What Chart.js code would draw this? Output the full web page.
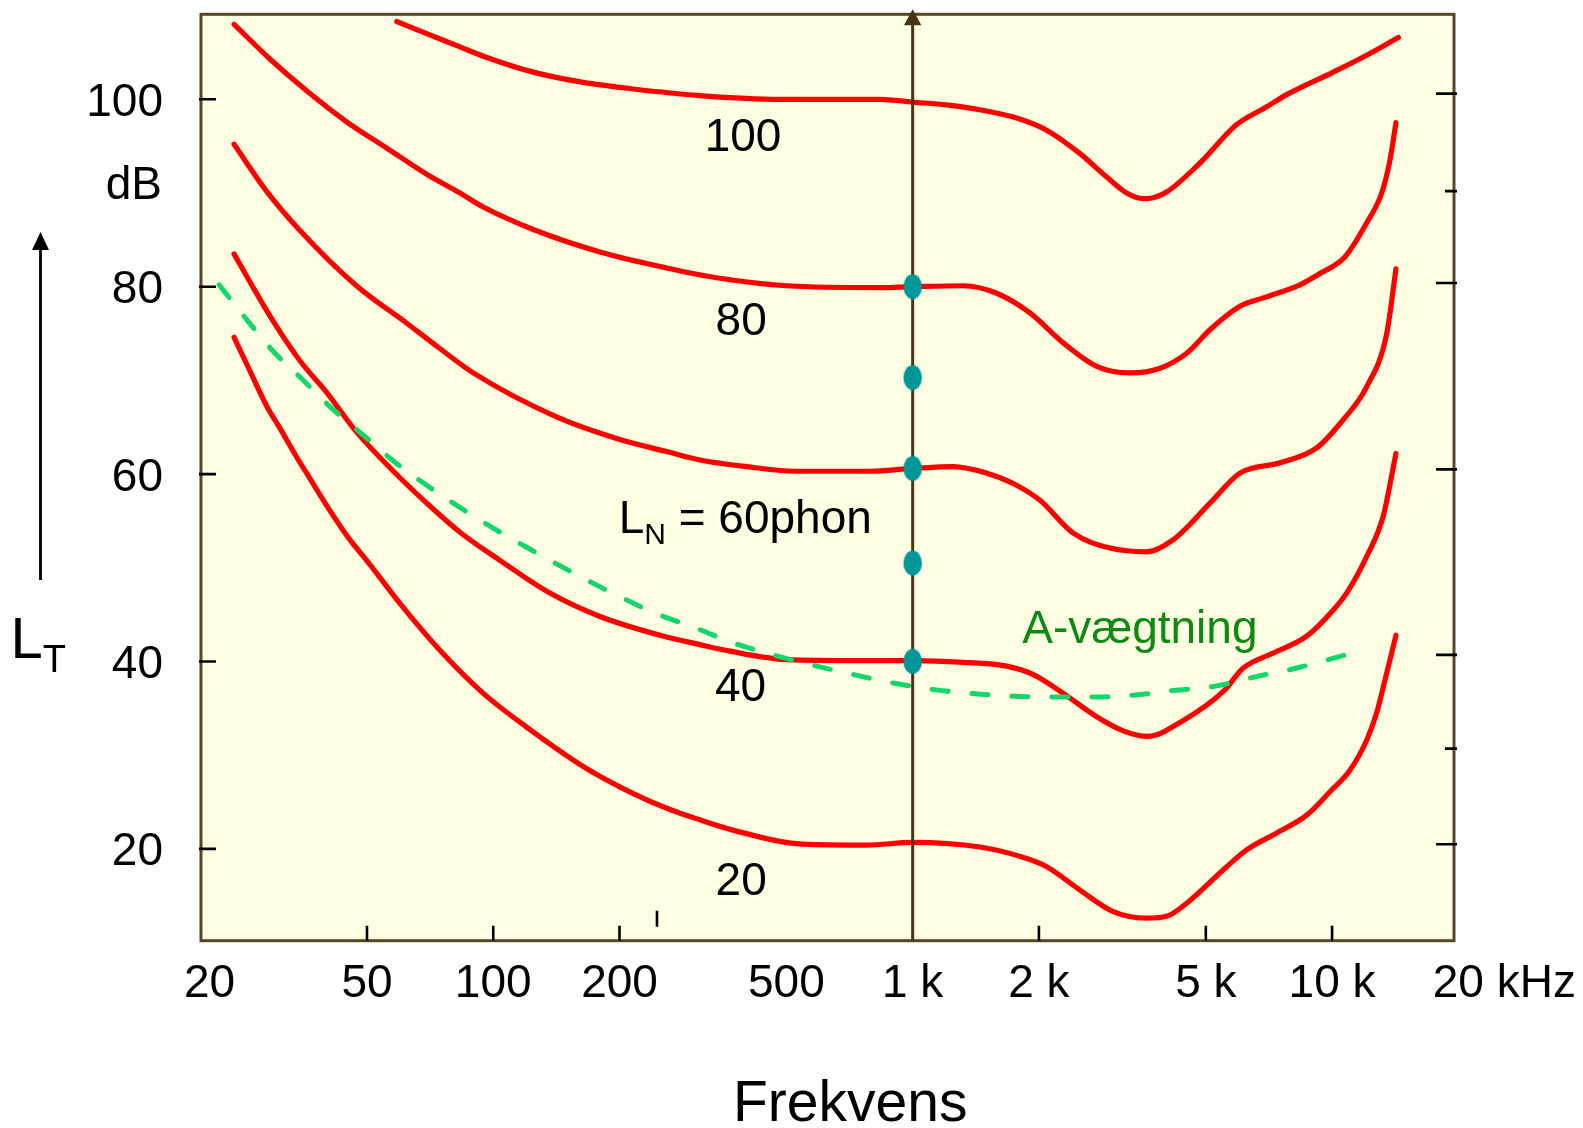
<!DOCTYPE html>
<html><head><meta charset="utf-8">
<script src="https://cdn.jsdelivr.net/npm/chart.js@4.4.1/dist/chart.umd.min.js"></script>
<style>html,body{margin:0;padding:0;background:#fff;}canvas{display:block;}</style>
</head><body>
<canvas id="c" width="1583" height="1128"></canvas>
<script>
// ---- data (frequency Hz, level dB) ----
const phon100 = [[58.9,108.3],[69.4,107.0],[83.3,105.6],[94.7,104.6],[124.6,102.9],[163.9,101.8],[215.7,101.1],[311,100.4],[483,100.0],[836,100.0],[1000,99.7],[1205,99.4],[1395,99.0],[1770,98.0],[2087,96.7],[2506,94.2],[2901,91.7],[3238,90.0],[3546,89.4],[3747,89.5],[4033,90.1],[4842,93.2],[5923,97.3],[6986,99.2],[7796,100.5],[10070,102.9],[12090,104.7],[14390,106.6]];
const phon80 = [[24.1,108.0],[29.35,104.3],[35.9,100.9],[44.7,97.6],[55.7,94.8],[69.4,92.0],[83.3,90.0],[94.7,88.5],[124.6,86.1],[179.7,83.7],[259,82.0],[347,80.9],[501,80.1],[836,79.9],[1000,80.0],[1320,80.1],[1586,79.3],[1904,77.2],[2286,74.0],[2746,71.5],[3297,70.8],[3888,71.3],[4501,72.9],[5116,75.4],[6031,77.9],[6855,78.8],[8383,80.2],[9359,81.4],[10740,83.2],[12090,86.8],[13130,90.0],[13740,93.5],[14200,97.5]];
const phon60 = [[24.1,95.2],[28.8,90.2],[34.6,86.0],[47.2,80.1],[62.2,76.1],[74.6,73.4],[89.6,70.8],[141.6,66.1],[196.8,63.8],[259,62.4],[311,61.5],[402,60.8],[529,60.3],[791,60.3],[1000,60.6],[1250,60.8],[1502,60.1],[1737,59.0],[2012,57.2],[2415,53.7],[2954,52.1],[3614,51.7],[4182,53.0],[5116,56.9],[6031,60.1],[7514,61.2],[9190,62.8],[10630,65.8],[12090,69.3],[13500,75.0],[14200,81.9]];
const phon40 = [[24.1,83.5],[26.3,80.5],[29.9,76.3],[34.6,72.1],[40.1,68.7],[47.2,64.5],[57.8,60.3],[69.4,56.9],[83.3,53.8],[103.7,50.8],[136.5,47.3],[179.7,44.8],[249.7,42.8],[311,41.8],[366.7,41.1],[501,40.2],[762,40.1],[1000,40.1],[1320,39.9],[1676,39.5],[1939,38.6],[2286,36.6],[2746,34.1],[3178,32.6],[3630,32.0],[4379,33.6],[5504,36.8],[6141,39.3],[7241,40.9],[8700,42.7],[10070,45.5],[10830,47.3],[12090,51.2],[13240,55.5],[14200,62.2]];
const phon20 = [[24.1,74.6],[26.3,71.0],[28.8,67.3],[31.0,64.9],[34.0,61.8],[36.6,59.5],[40.8,56.1],[45.5,53.0],[49.9,50.8],[59.9,46.2],[74.6,41.2],[94.7,36.6],[120.1,33.0],[163.9,28.8],[215.7,25.9],[263.8,24.2],[311,23.1],[373,22.0],[548,20.5],[777,20.4],[1000,20.7],[1447,20.2],[1803,19.2],[2087,18.1],[2506,15.6],[3008,13.3],[3614,12.6],[4033,12.8],[4501,14.2],[5608,18.1],[6257,19.9],[7378,21.7],[8700,23.6],[9886,26.1],[11030,28.4],[12090,31.6],[12770,34.5],[13370,38.0],[14200,42.8]];
const aWeighting = [[22.2,80.2],[25.6,76.7],[29.6,73.3],[34.9,70.2],[40.8,67.2],[48.6,64.3],[57.8,61.4],[69.4,58.8],[91.3,55.3],[111.6,53.0],[136.5,50.8],[163.9,48.9],[200.5,46.9],[245.3,45.1],[311,43.4],[366.7,42.1],[465,40.7],[579,39.6],[722,38.6],[899,37.7],[1080,37.1],[1370,36.6],[1737,36.3],[2204,36.2],[2647,36.2],[3357,36.4],[4182,36.9],[5307,37.4],[6611,38.4],[8235,39.3],[10740,40.7]];
const markerFreq = 1000;
const markerLevels = [80, 70.3, 60.6, 50.5, 40];

const xTickValues = [20, 50, 100, 200, 500, 1000, 2000, 5000, 10000, 20000];
const xTickLabels = ['20', '50', '100', '200', '500', '1 k', '2 k', '5 k', '10 k', '20 kHz'];
const xTickMarks = [50, 100, 200, 2000, 5000, 10000];
const yTickValues = [100, 80, 60, 40, 20];
const yTickLabels = ['100', '80', '60', '40', '20'];
const rightMajorTicks = [100.6, 80.4, 60.5, 40.7, 20.5];
const rightMinorTicks = [90.2, 30.7];
const strayTick = [245.7, 11.7, 13.4];

const FONT = '"Liberation Sans", Arial, Helvetica, sans-serif';
const toXY = arr => arr.map(p => ({x: p[0], y: p[1]}));

// teal elliptical marker
const ellipse = document.createElement('canvas');
ellipse.width = 20; ellipse.height = 26;
const ec = ellipse.getContext('2d');
ec.fillStyle = '#00979a';
ec.beginPath(); ec.ellipse(10, 13, 9.3, 12.5, 0, 0, Math.PI * 2); ec.fill();

function redCurve(label, arr) {
  return {label, data: toXY(arr), borderColor: '#ff0000', borderWidth: 5.2, pointRadius: 0,
    cubicInterpolationMode: 'monotone', borderCapStyle: 'round', borderJoinStyle: 'round', fill: false};
}

const decor = {
  id: 'decor',
  beforeDraw(chart) {
    const {ctx, chartArea: a} = chart;
    ctx.save();
    ctx.fillStyle = '#fefee3';
    ctx.fillRect(a.left, a.top, a.right - a.left, a.bottom - a.top);
    ctx.restore();
  },
  beforeDatasetsDraw(chart) {
    const {ctx, chartArea: a, scales: {x: xs, y: ys}} = chart;
    ctx.save();
    ctx.strokeStyle = '#5b4420';
    ctx.lineWidth = 3;
    ctx.strokeRect(a.left, a.top, a.right - a.left, a.bottom - a.top);
    ctx.strokeStyle = '#000';
    ctx.lineWidth = 2.6;
    ctx.beginPath();
    yTickValues.forEach(v => { const y = ys.getPixelForValue(v); ctx.moveTo(a.left - 2, y); ctx.lineTo(a.left + 15, y); });
    rightMajorTicks.forEach(v => { const y = ys.getPixelForValue(v); ctx.moveTo(a.right - 18, y); ctx.lineTo(a.right + 3, y); });
    rightMinorTicks.forEach(v => { const y = ys.getPixelForValue(v); ctx.moveTo(a.right - 9, y); ctx.lineTo(a.right + 3, y); });
    xTickMarks.forEach(f => { const x = xs.getPixelForValue(f); ctx.moveTo(x, a.bottom); ctx.lineTo(x, a.bottom - 15); });
    const sx = xs.getPixelForValue(strayTick[0]);
    ctx.moveTo(sx, ys.getPixelForValue(strayTick[1])); ctx.lineTo(sx, ys.getPixelForValue(strayTick[2]));
    ctx.stroke();
    ctx.restore();
  },
  beforeDatasetDraw(chart, args) {
    if (args.index !== 0) return;
    const {ctx, chartArea: a, scales: {x: xs}} = chart;
    const x = xs.getPixelForValue(markerFreq);
    ctx.save();
    ctx.strokeStyle = '#4a3412';
    ctx.fillStyle = '#4a3412';
    ctx.lineWidth = 3;
    ctx.beginPath(); ctx.moveTo(x, a.bottom); ctx.lineTo(x, a.top + 8); ctx.stroke();
    ctx.beginPath(); ctx.moveTo(x, a.top - 5); ctx.lineTo(x - 8.7, a.top + 11); ctx.lineTo(x + 8.7, a.top + 11); ctx.closePath(); ctx.fill();
    ctx.restore();
  },
  afterDraw(chart) {
    const {ctx, chartArea: a, scales: {x: xs, y: ys}} = chart;
    ctx.save();
    ctx.fillStyle = '#000';
    ctx.textBaseline = 'alphabetic';
    // x tick labels
    ctx.font = '46px ' + FONT;
    const half20 = ctx.measureText('20').width / 2;
    xTickValues.forEach((f, i) => {
      const x = xs.getPixelForValue(f);
      const lab = xTickLabels[i];
      const base = a.bottom + 56.5;
      if (i === xTickValues.length - 1) {
        ctx.textAlign = 'left';
        ctx.fillText(lab, x - half20, base);
      } else if (i === 0) {
        ctx.textAlign = 'left';
        ctx.fillText(lab, a.left - 17, base);
      } else {
        ctx.textAlign = 'center';
        ctx.fillText(lab, x, base);
      }
    });
    // y tick labels
    ctx.textAlign = 'right';
    yTickValues.forEach((v, i) => {
      ctx.fillText(yTickLabels[i], a.left - 38, ys.getPixelForValue(v) + 16.5);
    });
    ctx.fillText('dB', a.left - 39, 199);
    // curve labels
    ctx.textAlign = 'center';
    const lab = (t, f, v) => ctx.fillText(t, xs.getPixelForValue(f), ys.getPixelForValue(v) + 16.5);
    lab('100', 394, 96.2);
    lab('80', 390, 76.6);
    lab('40', 388.6, 37.55);
    lab('20', 390, 16.8);
    // L_N = 60phon
    ctx.textAlign = 'left';
    let px = xs.getPixelForValue(202.4) - 3;
    const by = ys.getPixelForValue(53.7);
    ctx.font = '46px ' + FONT;
    ctx.fillText('L', px, by);
    px += ctx.measureText('L').width;
    ctx.font = '30px ' + FONT;
    ctx.fillText('N', px, by + 10.5);
    px += ctx.measureText('N').width;
    ctx.font = '46px ' + FONT;
    ctx.fillText(' = 60phon', px, by);
    // A-vægtning
    ctx.fillStyle = '#0d8a12';
    ctx.fillText('A-vægtning', xs.getPixelForValue(1835) - 1, ys.getPixelForValue(41.95));
    // axis title
    ctx.fillStyle = '#000';
    ctx.font = '57px ' + FONT;
    ctx.fillText('Frekvens', 733, 1121);
    // L_T with arrow
    ctx.font = '58px ' + FONT;
    ctx.fillText('L', 10.5, 658);
    const lw = ctx.measureText('L').width;
    ctx.font = '38px ' + FONT;
    ctx.fillText('T', 10.5 + lw, 672);
    ctx.strokeStyle = '#000';
    ctx.lineWidth = 2.8;
    ctx.beginPath(); ctx.moveTo(40.5, 580); ctx.lineTo(40.5, 246); ctx.stroke();
    ctx.beginPath(); ctx.moveTo(40.5, 232); ctx.lineTo(32, 250); ctx.lineTo(49, 250); ctx.closePath(); ctx.fill();
    ctx.restore();
  }
};

new Chart(document.getElementById('c'), {
  type: 'line',
  data: {
    datasets: [
      {label: 'Målepunkter 1 kHz', data: markerLevels.map(v => ({x: markerFreq, y: v})), showLine: false,
        pointStyle: ellipse, pointRadius: 10, pointHoverRadius: 10},
      {label: 'A-vægtning', data: toXY(aWeighting), borderColor: '#12d86c', borderWidth: 5,
        borderDash: [16, 24], borderCapStyle: 'round', pointRadius: 0, cubicInterpolationMode: 'monotone', fill: false},
      redCurve('100 phon', phon100),
      redCurve('80 phon', phon80),
      redCurve('60 phon', phon60),
      redCurve('40 phon', phon40),
      redCurve('20 phon', phon20)
    ]
  },
  options: {
    responsive: false,
    devicePixelRatio: 1,
    animation: false,
    events: [],
    layout: {padding: {left: 201, top: 14.3, right: 129, bottom: 187.3}},
    scales: {
      x: {type: 'logarithmic', min: 20.1, max: 19530, display: false},
      y: {type: 'linear', min: 10.2, max: 109.07, display: false}
    },
    plugins: {legend: {display: false}, tooltip: {enabled: false}}
  },
  plugins: [decor]
});
</script>
</body></html>
